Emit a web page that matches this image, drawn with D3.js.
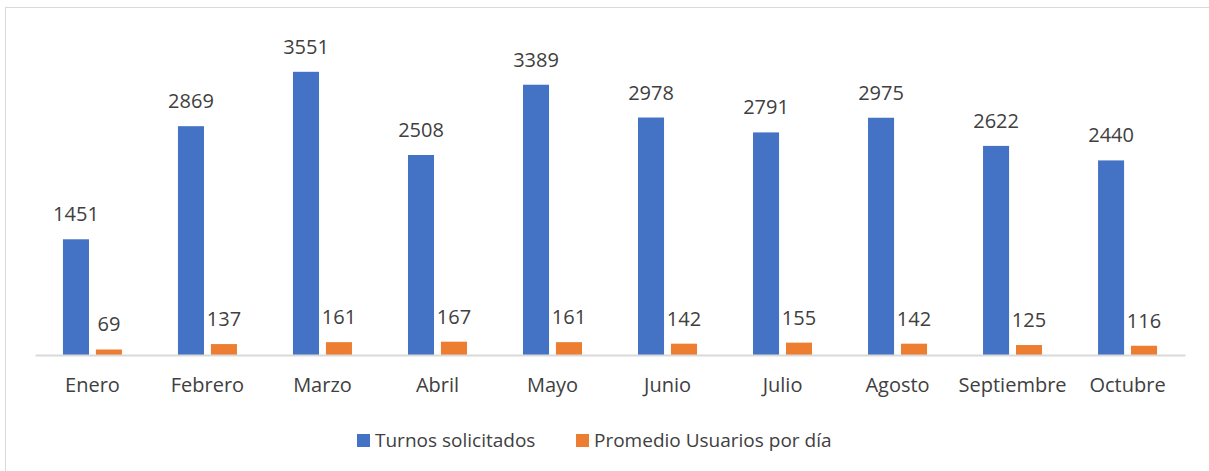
<!DOCTYPE html>
<meta charset="utf-8">
<script src="https://d3js.org/d3.v7.min.js"></script>
<style>
  body { margin: 0; background: #fff; }
  text { font-family: "Open Sans", "Noto Sans", sans-serif; fill: #404040; }
</style>
<div id="chart"></div>
<script>

// data
var meses = ["Enero", "Febrero", "Marzo", "Abril", "Mayo", "Junio", "Julio", "Agosto", "Septiembre", "Octubre"]
var turnos = [1451, 2869, 3551, 2508, 3389, 2978, 2791, 2975, 2622, 2440]
var promedio = [69, 137, 161, 167, 161, 142, 155, 142, 125, 116]
var seriesNames = ["Turnos solicitados", "Promedio Usuarios por día"]
var colors = ["#4472C4", "#ED7D31"]

var width = 1209, height = 471

var svg = d3.select("#chart").append("svg")
  .attr("width", width)
  .attr("height", height)

// outer frame (runs off the right and bottom edges)
svg.append("rect")
  .attr("x", 5.5).attr("y", 7.5)
  .attr("width", width).attr("height", height)
  .attr("fill", "none")
  .attr("stroke", "#d9d9d9")

var x = d3.scaleBand()
  .domain(meses)
  .range([35, 1185])
  .paddingInner(0.487)
  .paddingOuter(0.243)

var inner = d3.scaleBand()
  .domain([0, 1])
  .range([0, x.bandwidth()])
  .paddingInner(0.21)

var y = d3.scaleLinear()
  .domain([0, 4000])
  .range([355, 36])

var rows = meses.map(function(m, i) { return { mes: m, vals: [turnos[i], promedio[i]] } })

var groups = svg.selectAll("g.mes")
  .data(rows)
  .enter()
  .append("g")
    .attr("class", "mes")
    .attr("transform", function(d) { return "translate(" + x(d.mes) + ",0)" })

groups.selectAll("rect")
  .data(function(d) { return d.vals })
  .enter()
  .append("rect")
    .attr("x", function(d, i) { return inner(i) })
    .attr("width", inner.bandwidth())
    .attr("y", function(d) { return y(d) })
    .attr("height", function(d) { return y(0) - y(d) })
    .attr("fill", function(d, i) { return colors[i] })

groups.selectAll("text")
  .data(function(d) { return d.vals })
  .enter()
  .append("text")
    .attr("x", function(d, i) { return inner(i) + inner.bandwidth() / 2 })
    .attr("y", function(d) { return y(d) - 18 })
    .attr("text-anchor", "middle")
    .style("font-size", "20px")
    .text(function(d) { return d })

// baseline + category labels
var xAxis = svg.append("g")
  .attr("transform", "translate(0,355)")
  .call(d3.axisBottom(x).tickSize(0).tickPadding(23))
xAxis.select(".domain").attr("stroke", "#d9d9d9").attr("stroke-width", 2)
xAxis.selectAll("text").style("font-size", "20px").attr("fill", "#404040")

// legend
var legendX = [357, 576]
var legend = svg.selectAll("g.legend")
  .data(seriesNames)
  .enter()
  .append("g")
    .attr("class", "legend")
    .attr("transform", function(d, i) { return "translate(" + legendX[i] + ",434)" })

legend.append("rect")
  .attr("width", 13).attr("height", 13)
  .attr("fill", function(d, i) { return colors[i] })

legend.append("text")
  .attr("x", 18).attr("y", 6.5)
  .attr("dy", "0.35em")
  .style("font-size", "19px")
  .text(function(d) { return d })

</script>
